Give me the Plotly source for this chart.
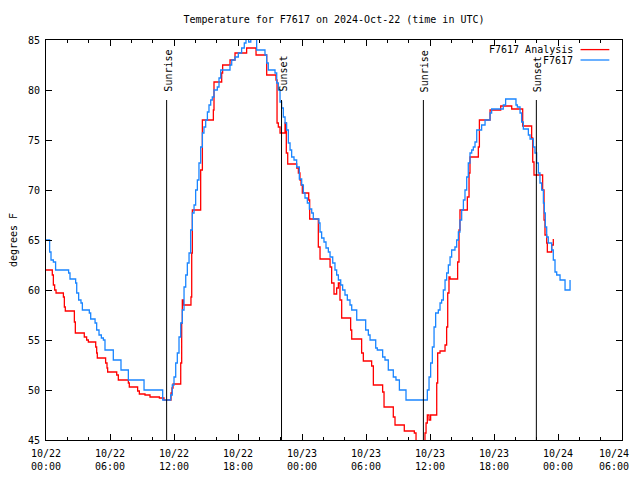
import pandas as pd
import plotly.graph_objects as go

# ---- data (hours since 2024-10-22 00:00 UTC, degrees F) ----
blue_hours = [0.0, 0.34, 0.47, 0.69, 0.9, 2.12, 2.25, 2.78, 2.88, 3.06, 3.28, 3.41, 4.06, 4.19, 4.6, 4.75,
              4.97, 5.19, 5.38, 5.53, 6.31, 7.03, 7.72, 9.19, 10.94, 11.69, 11.84, 12.0, 12.16, 12.31,
              12.47, 12.63, 12.78, 12.94, 13.1, 13.25, 13.41, 13.56, 13.72, 13.88, 14.03, 14.19, 14.34,
              14.5, 14.66, 14.81, 14.97, 15.13, 15.28, 15.44, 15.59, 15.75, 16.06, 16.22, 16.38, 17.25,
              17.41, 17.72, 18.03, 18.34, 18.59, 18.75, 19.0, 19.2, 19.45, 19.75, 20.53, 20.69, 20.84,
              21.47, 21.63, 21.78, 21.94, 22.09, 22.25, 22.41, 22.56, 22.72, 22.88, 23.03, 23.25, 23.5,
              23.75, 23.97, 24.13, 24.28, 24.5, 24.69, 24.91, 25.06, 25.59, 25.69, 25.84, 26.06, 26.25,
              26.47, 26.63, 26.88, 27.09, 27.25, 27.41, 27.63, 27.81, 28.03, 28.25, 28.5, 28.66, 29.13,
              29.97, 30.22, 30.38, 30.91, 31.06, 31.56, 31.78, 32.09, 32.56, 32.81, 33.13, 33.75, 35.75,
              35.91, 36.06, 36.22, 36.38, 36.53, 36.78, 36.94, 37.09, 37.25, 37.41, 37.56, 37.72, 37.88,
              38.03, 38.34, 38.5, 38.66, 38.81, 38.97, 39.13, 39.28, 39.44, 39.59, 39.75, 39.91, 40.06,
              40.22, 40.38, 40.84, 41.16, 41.63, 41.78, 42.87, 43.09, 44.06, 44.19, 44.44, 44.59, 44.75,
              45.22, 45.38, 45.69, 45.84, 46.0, 46.16, 46.31, 46.47, 46.63, 46.72, 46.81, 46.94, 47.09,
              47.41, 47.56, 47.72, 47.88, 48.19, 48.66, 49.13]
blue_temps = [65.0, 63.8, 63.0, 62.8, 62.0, 61.7, 61.1, 60.7, 59.7, 59.0, 58.7, 58.0, 57.7, 57.1, 56.7, 56.0,
              55.5, 55.2, 55.0, 54.0, 53.0, 52.0, 51.0, 50.0, 49.0, 49.5, 50.5, 51.3, 52.7, 53.7,
              55.3, 56.7, 58.0, 60.3, 61.5, 62.7, 63.7, 66.0, 67.7, 68.5, 70.0, 71.0, 72.7,
              74.3, 75.7, 76.3, 77.0, 77.8, 78.5, 79.0, 79.3, 80.0, 80.3, 81.2, 82.0, 82.5,
              83.0, 83.3, 83.7, 84.2, 84.7, 85.5, 84.8, 85.6, 85.5, 84.0, 83.5, 82.7, 82.0,
              81.7, 80.7, 80.0, 78.8, 78.2, 77.3, 76.7, 76.0, 74.7, 74.0, 73.3, 73.0, 72.3,
              71.1, 70.5, 69.7, 69.2, 68.7, 68.1, 67.7, 67.1, 66.7, 65.8, 65.2, 64.8, 64.2,
              63.8, 63.3, 62.7, 62.0, 61.5, 61.0, 60.5, 60.0, 59.5, 59.0, 58.5, 58.0, 57.0,
              56.0, 55.5, 55.0, 54.2, 54.0, 53.3, 53.0, 52.0, 51.3, 51.0, 50.0, 49.0, 50.0,
              51.3, 52.7, 54.3, 56.3, 57.7, 58.0, 58.7, 59.0, 60.0, 61.0, 61.7, 62.5, 63.3,
              64.0, 64.3, 65.0, 65.8, 67.0, 68.0, 69.0, 70.0, 71.3, 72.7, 73.7, 74.0, 74.3,
              74.8, 76.0, 76.5, 77.0, 77.7, 78.1, 78.5, 79.1, 78.5, 78.3, 77.7, 76.8, 76.1,
              75.5, 75.1, 74.3, 73.7, 72.7, 71.7, 70.7, 70.0, 68.7, 67.7, 66.3, 65.3, 64.7,
              64.0, 63.0, 61.8, 61.5, 61.0, 60.0, 61.0]

red_hours = [0.0, 0.59, 0.69, 0.81, 0.94, 1.63, 1.72, 1.81, 2.66, 2.75, 3.59, 3.81, 3.97, 4.66, 4.75, 4.81,
             5.59, 5.72, 5.78, 6.63, 6.78, 7.72, 7.81, 8.59, 8.75, 9.28, 9.75, 10.63, 11.06, 11.72,
             11.81, 11.91, 12.63, 12.72, 12.78, 12.88, 13.59, 13.66, 13.72, 14.5, 14.66, 15.69, 15.75,
             16.47, 16.56, 17.25, 17.72, 18.81, 19.69, 20.69, 21.56, 21.66, 21.78, 21.94, 22.41, 22.53,
             22.66, 23.5, 23.66, 23.81, 23.91, 24.03, 24.63, 24.72, 25.53, 25.69, 26.63, 26.78, 27.0,
             27.25, 27.41, 27.56, 27.72, 28.56, 28.66, 29.59, 29.75, 30.53, 30.69, 31.56, 31.69, 32.56,
             32.72, 33.59, 34.53, 34.69, 35.53, 35.63, 35.75, 35.91, 36.06, 36.63, 36.72, 36.94, 37.41,
             37.56, 37.66, 37.78, 37.88, 38.59, 38.72, 38.81, 39.5, 39.66, 39.75, 40.53, 40.63, 41.63,
             42.63, 43.66, 44.69, 45.53, 45.63, 45.75, 46.56, 46.69, 46.78, 46.94, 47.0, 47.41, 47.56]
red_temps = [62.0, 61.5, 60.5, 60.0, 59.7, 59.3, 58.3, 57.9, 56.8, 55.7, 55.3, 55.0, 54.8, 54.3, 53.7, 53.2,
             52.7, 52.2, 51.8, 51.5, 51.0, 50.7, 50.3, 49.9, 49.6, 49.5, 49.3, 49.2, 49.0, 49.7,
             50.2, 50.6, 52.7, 56.7, 59.0, 58.5, 59.3, 63.7, 68.0, 72.0, 77.0, 78.0, 80.8,
             81.7, 82.5, 83.0, 83.7, 84.2, 83.5, 81.5, 81.0, 76.7, 76.3, 75.7, 76.7, 73.7,
             72.6, 72.2, 71.7, 71.0, 70.5, 69.7, 69.0, 67.1, 64.3, 63.1, 62.3, 60.7, 59.6,
             60.2, 60.7, 59.0, 57.2, 56.0, 55.1, 53.7, 52.9, 52.4, 50.5, 49.8, 48.3, 47.3,
             46.5, 45.9, 45.7, 44.9, 45.7, 46.7, 47.5, 47.0, 47.5, 50.7, 53.7, 53.9, 54.5,
             56.3, 59.7, 61.3, 61.1, 62.8, 66.0, 68.0, 69.3, 71.7, 73.3, 74.3, 77.0, 78.0,
             78.4, 78.1, 76.4, 75.2, 72.8, 71.5, 70.0, 67.0, 65.5, 64.7, 63.8, 64.5, 65.1]

sun_event_hours = [11.31, 22.08, 35.38, 45.97]
sun_event_labels = ["Sunrise", "Sunset", "Sunrise", "Sunset"]

tick_hours = [0, 6, 12, 18, 24, 30, 36, 42, 48, 54]
tick_labels = ["10/22<br>00:00", "10/22<br>06:00", "10/22<br>12:00", "10/22<br>18:00",
               "10/23<br>00:00", "10/23<br>06:00", "10/23<br>12:00", "10/23<br>18:00",
               "10/24<br>00:00", "10/24<br>06:00"]
minor_hours = list(range(0, 55, 2))

series_names = ["F7617 Analysis", "F7617"]
series_colors = ["#ff0000", "#1a85ff"]

base = pd.Timestamp("2024-10-22 00:00")
def to_time(hours):
    return [base + pd.Timedelta(hours=h) for h in hours]

FONT = "DejaVu Sans Mono"

fig = go.Figure()
fig.add_trace(go.Scatter(x=to_time(red_hours), y=red_temps, mode="lines", name=series_names[0],
                         line=dict(color=series_colors[0], width=1.3, shape="hv")))
fig.add_trace(go.Scatter(x=to_time(blue_hours), y=blue_temps, mode="lines", name=series_names[1],
                         line=dict(color=series_colors[1], width=1.3, shape="hv")))

for h, lab in zip(to_time(sun_event_hours), sun_event_labels):
    fig.add_shape(type="line", xref="x", yref="y", x0=h, x1=h, y0=45, y1=79,
                  line=dict(color="black", width=1))
    fig.add_annotation(x=h, y=79, xref="x", yref="y", text=lab, textangle=-90, showarrow=False,
                       xanchor="center", yanchor="bottom", yshift=6, xshift=1,
                       font=dict(family=FONT, size=10, color="black"))

# gnuplot-style key: text right-aligned, sample line on the right
key_y = [0.976, 0.95]
for name, col, yy in zip(series_names, series_colors, key_y):
    fig.add_annotation(x=0.918, y=yy, xref="paper", yref="paper", text=name, showarrow=False,
                       xanchor="right", yanchor="middle", font=dict(family=FONT, size=10, color="black"))
    fig.add_shape(type="line", xref="paper", yref="paper", x0=0.928, x1=0.978, y0=yy, y1=yy,
                  line=dict(color=col, width=1.3))

# last x tick label would be cut at the page edge: draw it right-aligned inside the figure
fig.add_annotation(x=to_time([tick_hours[-1]])[0], y=0, xref="x", yref="paper", text=tick_labels[-1],
                   showarrow=False, xanchor="right", yanchor="top", xshift=9, yshift=-6,
                   align="center", font=dict(family=FONT, size=10, color="black"))

# page body has an 8px margin: keep figure inside the 640x480 window
W, H = 624, 464
fig.update_layout(
    width=W, height=H,
    margin=dict(l=38, r=10, t=32, b=32, autoexpand=False),
    paper_bgcolor="white", plot_bgcolor="white",
    showlegend=False,
    font=dict(family=FONT, size=10, color="black"),
    title=dict(text="Temperature for F7617 on 2024-Oct-22 (time in UTC)", x=0.5, xref="paper",
               y=1 - 11 / H, yanchor="middle", font=dict(family=FONT, size=10, color="black")),
)
fig.update_xaxes(
    range=[base, base + pd.Timedelta(hours=54)],
    tickmode="array", tickvals=to_time(tick_hours), ticktext=tick_labels[:-1] + [""],
    ticks="inside", ticklen=6, tickcolor="black", tickwidth=1,
    minor=dict(tickmode="array", tickvals=to_time(minor_hours), ticks="inside", ticklen=3,
               tickcolor="black", tickwidth=1, showgrid=False),
    showline=True, linecolor="black", linewidth=1, mirror="allticks",
    showgrid=False, zeroline=False, ticklabelstandoff=4, ticklabeloverflow="allow",
)
fig.update_yaxes(
    range=[45, 85], tickmode="linear", tick0=45, dtick=5,
    ticks="inside", ticklen=6, tickcolor="black", tickwidth=1,
    showline=True, linecolor="black", linewidth=1, mirror="allticks",
    showgrid=False, zeroline=False, ticklabelstandoff=3,
    title=dict(text="degrees F", standoff=12, font=dict(family=FONT, size=10)),
)

fig.write_html("out.html")
